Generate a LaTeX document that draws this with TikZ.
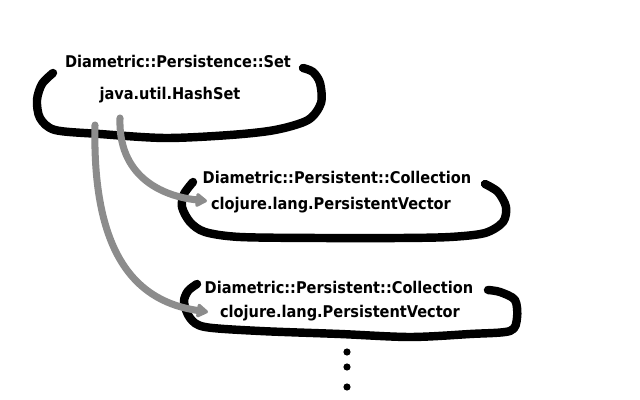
\documentclass[tikz,border=0pt]{standalone}
\usepackage{fontspec}
\setmainfont{DejaVu Sans Condensed}
\usetikzlibrary{arrows.meta}
\begin{document}
\begin{tikzpicture}[x=0.025cm,y=-0.025cm,
	blob/.style={line width=6pt, line cap=round, line join=round},
	ptr/.style={line width=5pt, color={rgb,255:red,140;green,140;blue,140}, line cap=round, -{Triangle[length=9pt,width=11pt,round]}},
	lbl/.style={font=\fontsize{11.5}{13}\selectfont\bfseries, inner sep=0pt}]
				\useasboundingbox (0,0) rectangle (640,400);
				\coordinate (S1) at (120,118);
				\coordinate (S2) at (95,125);
				\coordinate (T1) at (207,201);
				\coordinate (T2) at (208,312);
				\node[lbl] (setname) at (178,61) {Diametric::Persistence::Set};
				\node[lbl] (setclass) at (170,95) {java.util.HashSet};
				\node[lbl] (colname1) at (337,177) {Diametric::Persistent::Collection};
				\node[lbl] (colclass1) at (331,205) {clojure.lang.PersistentVector};
				\node[lbl] (colname2) at (339,287) {Diametric::Persistent::Collection};
				\node[lbl] (colclass2) at (340,313) {clojure.lang.PersistentVector};
				\draw [blob] plot[smooth] coordinates {(53,73) (42,84) (37,100) (40,118) (55,130) (100,134) (165,138) (230,135) (275,130) (308,120) (321,103) (320,83) (313,72) (303,68)};
				\draw [blob] plot[smooth] coordinates {(193,182) (184,194) (182,207) (190,222) (205,232) (240,237) (320,238) (400,238) (450,237) (485,233) (503,222) (506,207) (498,192) (485,184)};
				\draw [blob] plot[smooth] coordinates {(197,284) (188,291) (184,302) (190,318) (205,327) (260,331) (340,334) (410,337) (470,334) (510,331) (517,318) (515,300) (500,292) (488,290)};
				\draw [ptr] (S1) .. controls (118,175) and (160,196) .. (T1);
				\draw [ptr] (S2) .. controls (92,260) and (140,302) .. (T2);
				\foreach \y in {352,367,387}
					\fill (347,\y) circle (3.6);
			\end{tikzpicture}
\end{document}
